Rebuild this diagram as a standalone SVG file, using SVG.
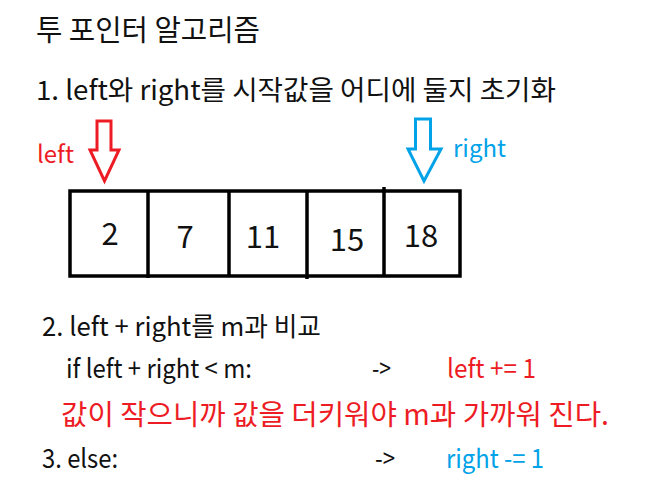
<svg xmlns="http://www.w3.org/2000/svg" width="655" height="500" viewBox="0 0 655 500">
<style>
text{font-family:"Noto Sans CJK KR","Noto Sans",sans-serif;fill:#111}
.red{fill:#ed1c24}
.blue{fill:#00a2e8}
.num{font-size:31px;text-anchor:middle}
.cell{fill:#fff;stroke:#000;stroke-width:3.5}
.arrow{fill:none;stroke-width:3;stroke-linejoin:miter}
</style>
<rect width="655" height="500" fill="#fff"/>
<g id="title"><text x="36" y="41" font-size="29" textLength="224" lengthAdjust="spacingAndGlyphs">투 포인터 알고리즘</text></g>
<g id="step1"><text x="36" y="100" font-size="27" textLength="520" lengthAdjust="spacingAndGlyphs">1. left와 right를 시작값을 어디에 둘지 초기화</text></g>
<g id="label-left"><text class="red" x="37" y="163" font-size="24">left</text></g>
<g id="label-right"><text class="blue" x="453" y="157" font-size="24">right</text></g>
<g id="array">
<rect class="cell" x="70" y="191" width="390" height="85"/>
<line x1="148" y1="190" x2="148" y2="278" stroke="#000" stroke-width="3.5"/>
<line x1="229" y1="190" x2="229" y2="277" stroke="#000" stroke-width="3.5"/>
<line x1="307" y1="190" x2="307" y2="279" stroke="#000" stroke-width="3.5"/>
<line x1="384" y1="187" x2="384" y2="276" stroke="#000" stroke-width="3.5"/>
<text class="num" x="110" y="245">2</text>
<text class="num" x="185" y="248">7</text>
<text class="num" x="263" y="248">11</text>
<text class="num" x="347" y="251">15</text>
<text class="num" x="421" y="247">18</text>
</g>
<g id="connectors">
<polygon class="arrow" stroke="#ed1c24" points="97,121 111,121 111,150 119,150 104.5,181 90,150 97,150"/>
<polygon class="arrow" stroke="#00a2e8" points="415.5,119 430.5,119 430.5,149 441,149 424,181 408,149 415.5,149"/>
</g>
<g id="step2"><text x="42" y="336" font-size="26" textLength="279" lengthAdjust="spacingAndGlyphs">2. left + right를 m과 비교</text></g>
<g id="cond"><text x="66" y="378" font-size="26" textLength="186" lengthAdjust="spacingAndGlyphs">if left + right &lt; m:</text>
<text x="372" y="378" font-size="26" textLength="19" lengthAdjust="spacingAndGlyphs">-&gt;</text>
<text class="red" x="447" y="378" font-size="26" textLength="89" lengthAdjust="spacingAndGlyphs">left += 1</text></g>
<g id="note"><text class="red" x="61" y="425" font-size="28.5" textLength="548" lengthAdjust="spacingAndGlyphs">값이 작으니까 값을 더키워야 m과 가까워 진다.</text></g>
<g id="step3"><text x="42" y="468" font-size="26" textLength="76" lengthAdjust="spacingAndGlyphs">3. else:</text>
<text x="375" y="468" font-size="26" textLength="20" lengthAdjust="spacingAndGlyphs">-&gt;</text>
<text class="blue" x="446" y="468" font-size="26" textLength="98" lengthAdjust="spacingAndGlyphs">right -= 1</text></g>
</svg>
